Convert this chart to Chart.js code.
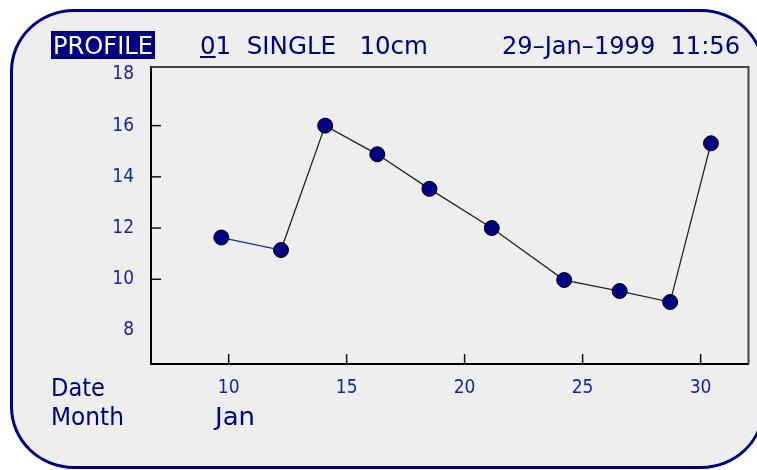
<!DOCTYPE html>
<html>
<head>
<meta charset="utf-8">
<script src="https://cdn.jsdelivr.net/npm/chart.js@4.4.1/dist/chart.umd.min.js"></script>
<style>
  html, body { margin: 0; padding: 0; background: #fff; overflow: hidden; }
  #page { position: relative; width: 757px; height: 470px; overflow: hidden; }
  #frame {
    position: absolute; left: 10px; top: 9px; width: 755px; height: 460px;
    box-sizing: border-box; border: 3px solid #000080; border-radius: 64px / 62px;
    background: #eeeeee;
  }
  #Graphique { position: absolute; left: 0; top: 0; }
  .txt {
    position: absolute; white-space: pre; color: #000080;
    font-family: "DejaVu Sans Condensed", "Liberation Sans Narrow", "DejaVu Sans", sans-serif;
    transform-origin: 0 0; line-height: 1;
  }
  #profileBox { position: absolute; left: 51px; top: 31px; width: 104px; height: 28px; background: #000080; }
</style>
</head>
<body>
<div id="page">
  <div id="frame"></div>
  <canvas id="Graphique" width="757" height="470"></canvas>
  <div id="profileBox"></div>
  <div class="txt" data-fit="100" style="left:53px; top:33px; font-size:25px; color:#fff;">PROFILE</div>
  <div class="txt" data-fit="228" style="left:200px; top:33px; font-size:25px;"><u>0</u>1  SINGLE   10cm</div>
  <div class="txt" data-fit="238" style="left:502px; top:33px; font-size:25px;">29–Jan–1999  11:56</div>
  <div class="txt" data-fit="54" style="left:51px; top:375px; font-size:25px;">Date</div>
  <div class="txt" data-fit="73" style="left:51px; top:404px; font-size:25px;">Month</div>
  <div class="txt" data-fit="40" style="left:215px; top:404px; font-size:25px;">Jan</div>
</div>
<script>
// étirer les textes à la largeur
document.querySelectorAll('[data-fit]').forEach(function (el) {
    var w = el.getBoundingClientRect().width;
    el.style.transform = 'scaleX(' + (parseFloat(el.dataset.fit) / w) + ')';
});

// données
var dates = [9.69, 12.22, 14.09, 16.30, 18.51, 21.15, 24.22, 26.57, 28.71, 30.44];
var values = [11.63, 11.14, 16.0, 14.88, 13.53, 12.0, 9.97, 9.54, 9.11, 15.31];
var xTicks = [10, 15, 20, 25, 30];
var yTicks = [8, 10, 12, 14, 16, 18];
var yTickMarks = [10, 12, 14, 16];

var points = dates.map(function (d, i) { return { x: d, y: values[i] }; });

// cadre du graphe + petites graduations vers l'intérieur
var framePlugin = {
    id: 'framePlugin',
    beforeDatasetsDraw: function (chart) {
        var ctx = chart.ctx;
        var a = chart.chartArea;
        ctx.save();
        ctx.strokeStyle = '#444';
        ctx.lineWidth = 2;
        ctx.beginPath();
        ctx.moveTo(a.left, a.top);
        ctx.lineTo(a.right, a.top);
        ctx.lineTo(a.right, a.bottom);
        ctx.stroke();
        ctx.strokeStyle = '#111';
        ctx.lineWidth = 1.5;
        xTicks.forEach(function (t) {
            var px = chart.scales.x.getPixelForValue(t);
            ctx.beginPath();
            ctx.moveTo(px, a.bottom);
            ctx.lineTo(px, a.bottom - 10);
            ctx.stroke();
        });
        yTickMarks.forEach(function (t) {
            var py = chart.scales.y.getPixelForValue(t);
            ctx.beginPath();
            ctx.moveTo(a.left, py);
            ctx.lineTo(a.left + 10, py);
            ctx.stroke();
        });
        ctx.restore();
    }
};

var chartElem = document.getElementById('Graphique').getContext('2d');

var chartObj = new Chart(chartElem, {
    type: 'scatter',
    data: {
        datasets: [{
            data: points,
            showLine: true,
            borderColor: '#222',
            borderWidth: 1.3,
            segment: {
                borderColor: function (c) { return c.p0DataIndex === 0 ? '#2525a0' : '#222'; }
            },
            pointRadius: 7.5,
            pointHoverRadius: 7.5,
            pointBackgroundColor: '#000080',
            pointBorderColor: '#000',
            pointBorderWidth: 1
        }]
    },
    options: {
        responsive: false,
        animation: false,
        events: [],
        layout: { padding: { top: 67, right: 6, left: 0, bottom: 0 } },
        plugins: { legend: { display: false }, tooltip: { enabled: false } },
        scales: {
            x: {
                type: 'linear',
                min: 6.71,
                max: 32.03,
                afterBuildTicks: function (s) { s.ticks = xTicks.map(function (v) { return { value: v }; }); },
                afterFit: function (s) { s.height = 106; },
                grid: { display: false, drawTicks: false },
                border: { display: true, color: '#000', width: 2 },
                ticks: {
                    padding: 13,
                    color: '#1e1ea0',
                    font: { family: 'DejaVu Sans Condensed', size: 19 }
                }
            },
            y: {
                min: 6.69,
                max: 18.29,
                afterBuildTicks: function (s) { s.ticks = yTicks.map(function (v) { return { value: v }; }); },
                afterFit: function (s) { s.width = 151; },
                grid: { display: false, drawTicks: false },
                border: { display: true, color: '#000', width: 2 },
                ticks: {
                    padding: 17,
                    color: '#1e1ea0',
                    font: { family: 'DejaVu Sans Condensed', size: 19 }
                }
            }
        }
    },
    plugins: [framePlugin]
});
</script>
</body>
</html>
